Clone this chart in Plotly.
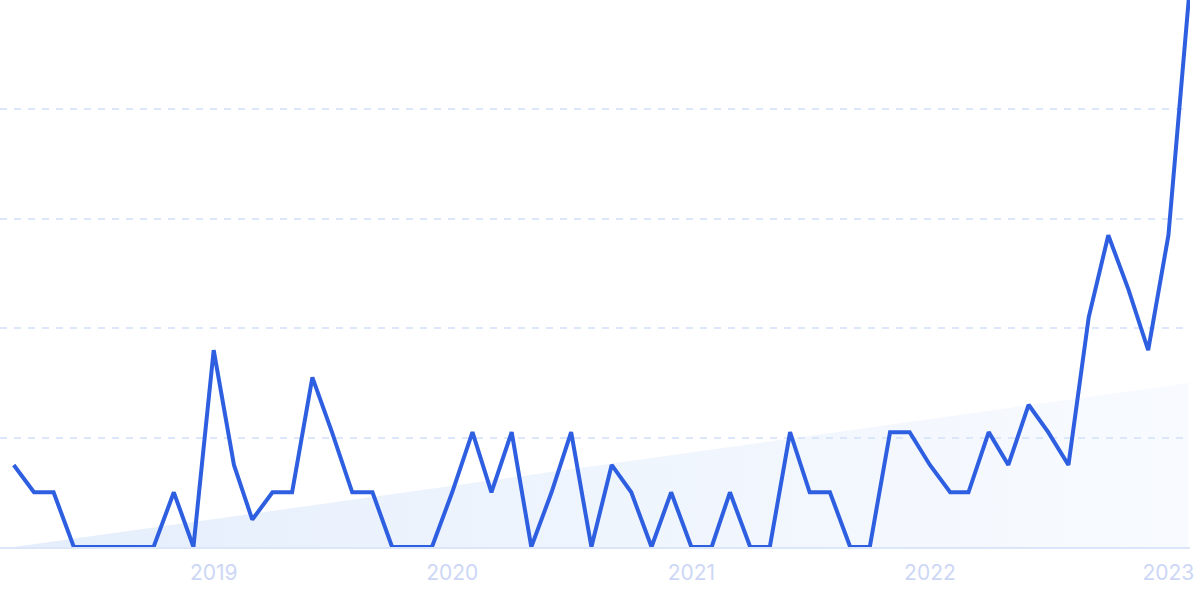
import plotly.graph_objects as go
import pandas as pd

# Monthly values, Mar 2018 .. Feb 2023
months = pd.date_range("2018-03-01", "2023-02-01", freq="MS").strftime("%Y-%m-%d").tolist()
values = [
    15, 10, 10, 0, 0, 0, 0, 0, 10, 0,          # Mar-Dec 2018
    36, 15, 5, 10, 10, 31, 21, 10, 10, 0, 0, 0, # 2019
    10, 21, 10, 21, 0, 10, 21, 0, 15, 10, 0, 10, # 2020
    0, 0, 10, 0, 0, 21, 10, 10, 0, 0, 21, 21,   # 2021
    15, 10, 10, 21, 15, 26, 21, 15, 42, 57, 47, 36, # 2022
    57, 100,                                     # 2023
]
trend_x = [months[0], months[-1]]
trend_values = [0, 30]
tick_labels = ["2019", "2020", "2021", "2022", "2023"]
tick_dates = ["2019-01-01", "2020-01-01", "2021-01-01", "2022-01-01", "2023-01-01"]

fig = go.Figure()
fig.add_trace(go.Scatter(
    x=trend_x, y=trend_values, mode="lines", line=dict(width=0),
    fill="tozeroy",
    fillgradient=dict(type="horizontal",
                      colorscale=[[0, "rgba(200,220,248,0.5)"], [1, "rgba(215,230,252,0.18)"]]),
    hoverinfo="skip", showlegend=False,
))
fig.add_trace(go.Scatter(
    x=months, y=values, mode="lines",
    line=dict(color="#2f5fe1", width=4),
    showlegend=False, cliponaxis=False,
))

fig.update_layout(
    width=1200, height=599,
    margin=dict(l=0, r=10, t=0, b=52),
    paper_bgcolor="white", plot_bgcolor="white",
    font=dict(family="Inter", size=21, color="#cdd7f5"),
)
fig.update_xaxes(
    range=["2018-02-08", "2023-02-03"],
    tickvals=tick_dates, ticktext=tick_labels,
    showgrid=False, zeroline=False,
    showline=True, linecolor="#dbe7f8", linewidth=2,
    ticks="outside", ticklen=6, tickcolor="rgba(0,0,0,0)",
    tickfont=dict(family="Inter", size=21, color="#cdd7f5"),
)
fig.update_yaxes(
    range=[0, 100], dtick=20, showticklabels=False,
    showgrid=True, gridcolor="#dde7fb", gridwidth=1.5, griddash="7px,7px",
    zeroline=False,
)

fig.write_html("out.html", config={"displayModeBar": False},
               post_script="document.body.style.margin='0';document.body.style.overflow='hidden';")
